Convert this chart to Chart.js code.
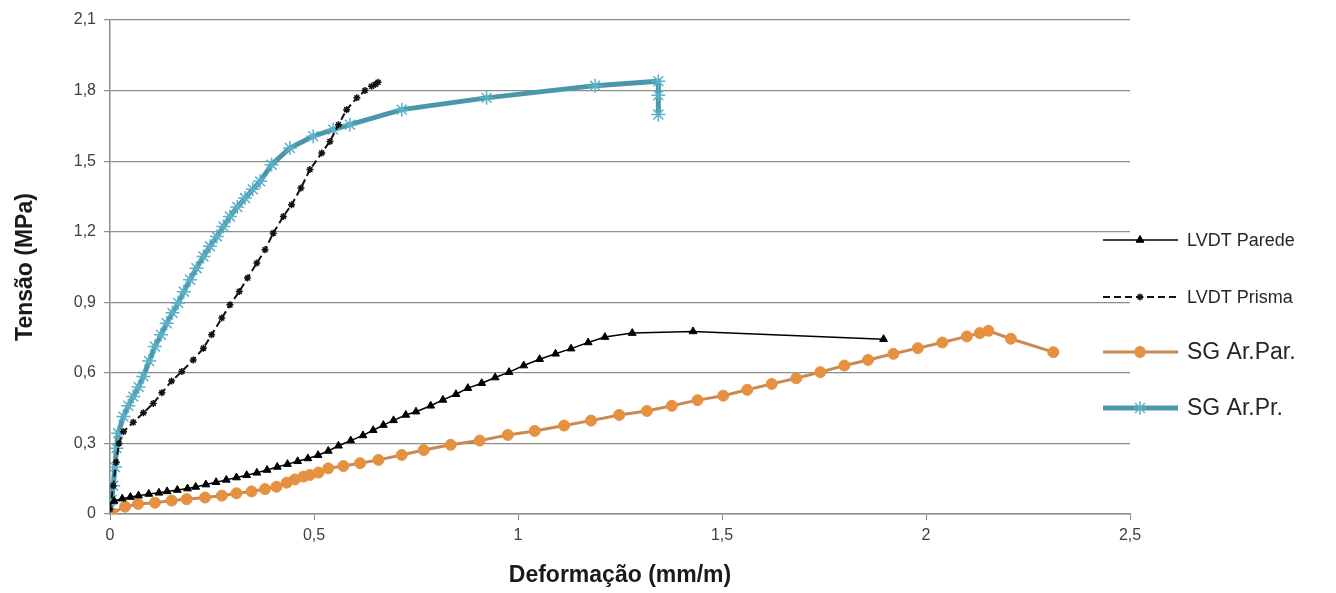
<!DOCTYPE html>
<html>
<head>
<meta charset="utf-8">
<script src="https://cdn.jsdelivr.net/npm/chart.js@4.4.1/dist/chart.umd.min.js"></script>
<style>
  html, body { margin: 0; padding: 0; background: #fff; }
</style>
</head>
<body>
<canvas id="grafico" width="1336" height="593"></canvas>
<script>
// Dados
var seriesNames = ['LVDT Parede', 'LVDT Prisma', 'SG Ar.Par.', 'SG Ar.Pr.']

var paredeX = [0.01,0.03,0.05,0.07,0.095,0.12,0.14,0.165,0.19,0.21,0.235,0.26,0.285,0.31,0.335,0.36,0.385,0.41,0.435,0.46,0.485,0.51,0.535,0.56,0.59,0.62,0.645,0.67,0.695,0.725,0.75,0.786,0.816,0.848,0.877,0.911,0.944,0.978,1.014,1.053,1.092,1.13,1.172,1.213,1.28,1.429,1.896]
var paredeY = [0.055,0.065,0.072,0.078,0.085,0.09,0.096,0.102,0.108,0.115,0.125,0.135,0.145,0.155,0.165,0.175,0.187,0.2,0.212,0.224,0.236,0.25,0.268,0.29,0.312,0.334,0.356,0.378,0.398,0.421,0.435,0.46,0.485,0.509,0.535,0.556,0.58,0.603,0.631,0.658,0.681,0.703,0.729,0.752,0.769,0.776,0.743]

var prismaX = [0,0.008,0.015,0.022,0.033,0.057,0.082,0.106,0.127,0.151,0.176,0.204,0.229,0.249,0.274,0.294,0.317,0.337,0.36,0.38,0.4,0.425,0.445,0.468,0.49,0.519,0.539,0.56,0.58,0.605,0.625,0.641,0.65,0.657]
var prismaY = [0.02,0.12,0.22,0.3,0.35,0.39,0.43,0.47,0.515,0.565,0.606,0.655,0.705,0.762,0.833,0.889,0.946,1.003,1.067,1.123,1.194,1.265,1.315,1.386,1.464,1.535,1.584,1.655,1.719,1.769,1.8,1.818,1.826,1.835]

var arParX = [0.004,0.037,0.069,0.11,0.151,0.188,0.233,0.274,0.31,0.347,0.38,0.408,0.433,0.453,0.474,0.49,0.511,0.535,0.572,0.613,0.658,0.715,0.769,0.835,0.906,0.975,1.041,1.113,1.179,1.248,1.316,1.377,1.44,1.503,1.562,1.622,1.682,1.741,1.8,1.858,1.92,1.98,2.04,2.1,2.132,2.153,2.208,2.312]
var arParY = [0.003,0.031,0.043,0.048,0.057,0.063,0.07,0.078,0.088,0.096,0.106,0.116,0.133,0.147,0.159,0.166,0.176,0.194,0.204,0.216,0.23,0.251,0.272,0.294,0.312,0.336,0.353,0.376,0.397,0.421,0.438,0.46,0.484,0.503,0.528,0.553,0.577,0.603,0.631,0.655,0.681,0.705,0.729,0.755,0.769,0.779,0.745,0.688]

var arPrX = [0,0.004,0.008,0.012,0.016,0.02,0.033,0.045,0.057,0.07,0.082,0.096,0.11,0.125,0.139,0.153,0.167,0.181,0.196,0.212,0.229,0.245,0.262,0.278,0.294,0.312,0.331,0.35,0.368,0.396,0.441,0.498,0.547,0.588,0.715,0.923,1.189,1.344,1.344,1.344]
var arPrY = [0.02,0.06,0.12,0.2,0.28,0.343,0.414,0.46,0.499,0.54,0.585,0.65,0.712,0.762,0.811,0.855,0.897,0.945,0.996,1.045,1.095,1.138,1.18,1.222,1.265,1.305,1.343,1.38,1.414,1.485,1.556,1.606,1.634,1.655,1.719,1.769,1.821,1.84,1.78,1.698]

var xTicks = { min: 0, max: 2.5, step: 0.5 }
var yTicks = { min: 0, max: 2.1, step: 0.3 }

const pontos = function(xs, ys){
    return xs.map((x, i) => ({ x: x, y: ys[i] }))
}

const virgula = function(v){
    return (Math.round(v * 10) / 10).toString().replace('.', ',')
}

// legenda desenhada à direita, linha + marcador como no Excel
const legendaLateral = {
    id: 'legendaLateral',
    afterDraw(chart){
        var ctx = chart.ctx
        var linhaY = [240, 297, 352, 408]
        var fontes = ['18px "Liberation Sans"', '18px "Liberation Sans"', '23px "Liberation Sans"', '23px "Liberation Sans"']
        chart.data.datasets.forEach((ds, i) => {
            var y = linhaY[i]
            ctx.save()
            ctx.strokeStyle = ds.borderColor
            ctx.lineWidth = ds.borderWidth
            ctx.setLineDash(ds.borderDash || [])
            ctx.beginPath()
            ctx.moveTo(1103, y)
            ctx.lineTo(1178, y)
            ctx.stroke()
            ctx.setLineDash([])
            ctx.fillStyle = ds.pointBackgroundColor
            ctx.strokeStyle = ds.pointBorderColor
            ctx.lineWidth = ds.pointBorderWidth
            Chart.helpers.drawPoint(ctx, {
                pointStyle: ds.pointStyle,
                radius: ds.pointRadius,
                rotation: 0,
                borderWidth: ds.pointBorderWidth
            }, 1140, y)
            ctx.fillStyle = '#262626'
            ctx.font = fontes[i]
            ctx.textBaseline = 'middle'
            ctx.fillText(ds.label, 1187, y + 1)
            ctx.restore()
        })
    }
}

var ctx = document.getElementById('grafico').getContext('2d')

new Chart(ctx, {
    type: 'scatter',
    data: {
        datasets: [{
            label: seriesNames[0],
            data: pontos(paredeX, paredeY),
            showLine: true,
            borderColor: '#000000',
            borderWidth: 1.5,
            pointStyle: 'triangle',
            pointRadius: 4.5,
            pointBackgroundColor: '#000000',
            pointBorderColor: '#000000',
            pointBorderWidth: 1
        }, {
            label: seriesNames[1],
            data: pontos(prismaX, prismaY),
            showLine: true,
            borderColor: '#111111',
            borderWidth: 2,
            borderDash: [7, 4],
            pointStyle: 'star',
            pointRadius: 3.5,
            pointBackgroundColor: '#111111',
            pointBorderColor: '#111111',
            pointBorderWidth: 1.5
        }, {
            label: seriesNames[2],
            data: pontos(arParX, arParY),
            showLine: true,
            borderColor: '#c98a52',
            borderWidth: 3,
            pointStyle: 'circle',
            pointRadius: 5.5,
            pointBackgroundColor: '#e5913f',
            pointBorderColor: '#e5913f',
            pointBorderWidth: 1
        }, {
            label: seriesNames[3],
            data: pontos(arPrX, arPrY),
            showLine: true,
            borderColor: '#4a97aa',
            borderWidth: 5,
            pointStyle: 'star',
            pointRadius: 7,
            pointBackgroundColor: '#5bb1c8',
            pointBorderColor: '#5bb1c8',
            pointBorderWidth: 1.5
        }]
    },
    options: {
        responsive: false,
        animation: false,
        devicePixelRatio: 1,
        layout: { padding: { top: 20, right: 206, left: 12, bottom: 0 } },
        plugins: {
            legend: { display: false },
            tooltip: { enabled: false }
        },
        scales: {
            x: {
                type: 'linear',
                min: xTicks.min,
                max: xTicks.max,
                afterFit: function(s){ s.height = 79 },
                ticks: {
                    stepSize: xTicks.step,
                    callback: virgula,
                    color: '#404040',
                    font: { family: 'Liberation Sans', size: 16 },
                    padding: 6,
                    maxRotation: 0
                },
                grid: {
                    drawOnChartArea: false,
                    drawTicks: true,
                    tickLength: 6,
                    color: '#8c8c8c'
                },
                border: { color: '#8c8c8c', width: 1.5 },
                title: {
                    display: true,
                    text: 'Deformação (mm/m)',
                    color: '#1a1a1a',
                    font: { family: 'Liberation Sans', size: 23, weight: 'bold' },
                    padding: { top: 2 }
                }
            },
            y: {
                type: 'linear',
                min: yTicks.min,
                max: yTicks.max,
                afterFit: function(s){ s.width = 98 },
                ticks: {
                    stepSize: yTicks.step,
                    callback: virgula,
                    color: '#404040',
                    font: { family: 'Liberation Sans', size: 16 },
                    padding: 8
                },
                grid: {
                    color: '#8c8c8c',
                    lineWidth: 1.2,
                    tickLength: 6
                },
                border: { color: '#8c8c8c', width: 1.5 },
                title: {
                    display: true,
                    text: 'Tensão (MPa)',
                    color: '#1a1a1a',
                    font: { family: 'Liberation Sans', size: 23, weight: 'bold' },
                    padding: { top: 0, bottom: 0 }
                }
            }
        }
    },
    plugins: [legendaLateral]
})
</script>
</body>
</html>
